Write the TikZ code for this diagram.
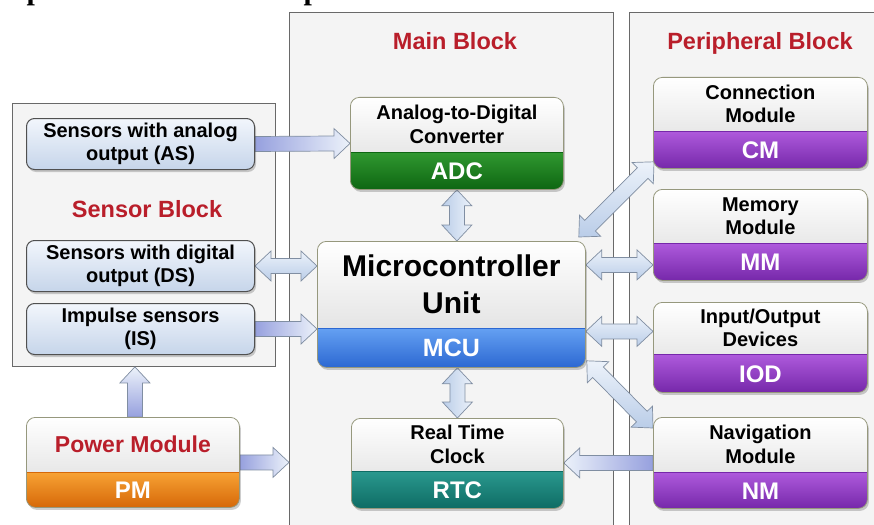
\documentclass[tikz,border=0pt]{standalone}
\usepackage{fontspec}
\setmainfont{Liberation Sans}
\newfontfamily\capserif{Liberation Serif}
\usetikzlibrary{calc,shadows}

\definecolor{panelfill}{RGB}{244,244,244}
\definecolor{panelline}{RGB}{105,105,105}
\definecolor{titlered}{RGB}{185,30,42}
\definecolor{modline}{RGB}{150,152,125}
\definecolor{sensline}{RGB}{80,80,80}
\definecolor{senstop}{RGB}{242,246,252}
\definecolor{sensbot}{RGB}{198,213,234}
\definecolor{adcA}{RGB}{48,152,48}
\definecolor{adcB}{RGB}{14,102,18}
\definecolor{mcuA}{RGB}{100,160,242}
\definecolor{mcuB}{RGB}{44,104,210}
\definecolor{rtcA}{RGB}{42,152,142}
\definecolor{rtcB}{RGB}{14,108,100}
\definecolor{pmA}{RGB}{247,162,52}
\definecolor{pmB}{RGB}{214,104,8}
\definecolor{purA}{RGB}{174,90,220}
\definecolor{purB}{RGB}{118,40,170}
\definecolor{arrline}{RGB}{128,142,162}
\definecolor{arrlight}{RGB}{236,242,250}
\definecolor{arrmid}{RGB}{186,205,232}
\definecolor{arrdeep}{RGB}{150,160,222}

\pgfdeclarelayer{back}
\pgfdeclarelayer{mid}
\pgfsetlayers{back,mid,main}

\tikzset{
  panel/.style={draw=panelline, line width=0.9pt, fill=panelfill,
    anchor=north west, inner sep=0},
  blocktitle/.style={text=titlered, anchor=base, inner sep=0,
    font=\fontsize{23.5}{26}\selectfont\bfseries},
  softshadow/.style={drop shadow={shadow xshift=1.5pt, shadow yshift=-2.5pt,
    opacity=0.28, fill=black!70}},
  sensorbox/.style={draw=sensline, line width=1pt, rounded corners=8pt,
    top color=senstop, bottom color=sensbot, anchor=north west,
    inner sep=0, minimum width=228pt, minimum height=51pt, align=center,
    font=\fontsize{20}{23.5}\selectfont\bfseries, softshadow},
  module/.style n args={5}{draw=modline, line width=0.8pt, rounded corners=9pt,
    anchor=north west, inner sep=0, minimum width=#1, minimum height=#2,
    fill=white, softshadow,
    path picture={
      \shade[sharp corners, top color=white, bottom color=black!15]
        (path picture bounding box.north west) rectangle
        ([yshift=#3]path picture bounding box.south east);
      \shade[sharp corners, top color=#4, bottom color=#5]
        ([yshift=#3]path picture bounding box.south west) rectangle
        (path picture bounding box.south east);
      \draw[sharp corners, #5, line width=0.6pt]
        ([yshift=#3]path picture bounding box.south west) --
        ([yshift=#3]path picture bounding box.south east);
    }},
  modtext/.style={align=center, inner sep=0,
    font=\fontsize{20}{23.5}\selectfont\bfseries},
  bandtext/.style={text=white, inner sep=0,
    font=\fontsize{24}{26}\selectfont\bfseries},
  arrowbody/.style={draw=arrline, line width=0.7pt, line join=miter},
}

% half widths of shaft and head, and head length, of the block arrows
\newcommand\shafthw{7.5pt}
\newcommand\headhw{15pt}
\newcommand\headlen{16pt}

% block arrow with one head: tail #2, tip #3
\newcommand\arrowone[3][]{%
  \coordinate (aneck) at ($(#3)!\headlen!(#2)$);
  \path[arrowbody,#1] ($(#2)!\shafthw!90:(#3)$) -- ($(aneck)!\shafthw!90:(#3)$)
    -- ($(aneck)!\headhw!90:(#3)$) -- (#3) -- ($(aneck)!\headhw!-90:(#3)$)
    -- ($(aneck)!\shafthw!-90:(#3)$) -- ($(#2)!\shafthw!-90:(#3)$) -- cycle;}

% block arrow with a head at both ends
\newcommand\arrowtwo[3][]{%
  \coordinate (aneckA) at ($(#2)!\headlen!(#3)$);
  \coordinate (aneckB) at ($(#3)!\headlen!(#2)$);
  \path[arrowbody,#1] (#2) -- ($(aneckA)!\headhw!90:(#3)$)
    -- ($(aneckA)!\shafthw!90:(#3)$) -- ($(aneckB)!\shafthw!90:(#3)$)
    -- ($(aneckB)!\headhw!90:(#3)$) -- (#3) -- ($(aneckB)!\headhw!-90:(#3)$)
    -- ($(aneckB)!\shafthw!-90:(#3)$) -- ($(aneckA)!\shafthw!-90:(#3)$)
    -- ($(aneckA)!\headhw!-90:(#3)$) -- cycle;}

\begin{document}
\begin{tikzpicture}[x=1pt,y=-1pt]
\useasboundingbox (0,0) rectangle (874,524);

\begin{pgfonlayer}{back}
  \fill[white] (0,0) rectangle (874,524);
  \node[panel, minimum width=263pt, minimum height=263pt] (sensorblk) at (12,103) {};
  \node[panel, minimum width=324pt, minimum height=530pt] (mainblk) at (289,12) {};
  \node[panel, minimum width=260pt, minimum height=530pt] (periblk) at (629,12) {};
\end{pgfonlayer}

% tails of the caption line above the figure
\node[anchor=base, inner sep=0, font=\capserif\bfseries\fontsize{30}{30}\selectfont] (capa) at (35,0) {p};
\node[anchor=base, inner sep=0, font=\capserif\bfseries\fontsize{30}{30}\selectfont] (capb) at (312,0) {p};

% block titles
\node[blocktitle] (maint) at (455,50) {Main Block};
\node[blocktitle] (perit) at (760,50) {Peripheral Block};
\node[blocktitle] (senst) at (147,217.5) {Sensor Block};

% sensor block
\node[sensorbox] (as) at (26,118) {Sensors with analog\\output (AS)};
\node[sensorbox] (ds) at (26,240) {Sensors with digital\\output (DS)};
\node[sensorbox] (is) at (26,303) {Impulse sensors\\(IS)};

% main block
\node[module={213pt}{92pt}{37pt}{adcA}{adcB}] (adc) at (350,97) {};
\node[modtext] (adc-t) at ([yshift=-27.5pt]adc.north) {Analog-to-Digital\\Converter};
\node[bandtext] (adc-b) at ([yshift=18.5pt]adc.south) {ADC};

\node[module={268pt}{126pt}{39pt}{mcuA}{mcuB}] (mcu) at (317,241) {};
\node[modtext, font=\fontsize{30}{37}\selectfont\bfseries] (mcu-t) at ([yshift=-43.5pt]mcu.north) {Microcontroller\\Unit};
\node[bandtext, font=\fontsize{25}{27}\selectfont\bfseries] (mcu-b) at ([yshift=19.5pt]mcu.south) {MCU};

\node[module={212pt}{90pt}{37pt}{rtcA}{rtcB}] (rtc) at (351,418) {};
\node[modtext] (rtc-t) at ([yshift=-26.5pt]rtc.north) {Real Time\\Clock};
\node[bandtext] (rtc-b) at ([yshift=18.5pt]rtc.south) {RTC};

% power module
\node[module={213pt}{90pt}{35pt}{pmA}{pmB}] (pm) at (26,417) {};
\node[modtext, text=titlered, font=\fontsize{23}{26}\selectfont\bfseries] (pm-t) at ([yshift=-27.5pt]pm.north) {Power Module};
\node[bandtext] (pm-b) at ([yshift=17.5pt]pm.south) {PM};

% peripheral block
\node[module={214pt}{91pt}{37pt}{purA}{purB}] (cm) at (653,77) {};
\node[modtext] (cm-t) at ([yshift=-27pt]cm.north) {Connection\\Module};
\node[bandtext] (cm-b) at ([yshift=18.5pt]cm.south) {CM};

\node[module={214pt}{91pt}{37pt}{purA}{purB}] (mm) at (653,189) {};
\node[modtext] (mm-t) at ([yshift=-27pt]mm.north) {Memory\\Module};
\node[bandtext] (mm-b) at ([yshift=18.5pt]mm.south) {MM};

\node[module={214pt}{90pt}{38pt}{purA}{purB}] (iod) at (653,302) {};
\node[modtext] (iod-t) at ([yshift=-26pt]iod.north) {Input/Output\\Devices};
\node[bandtext] (iod-b) at ([yshift=19pt]iod.south) {IOD};

\node[module={214pt}{91pt}{36pt}{purA}{purB}] (nm) at (653,417) {};
\node[modtext] (nm-t) at ([yshift=-27.5pt]nm.north) {Navigation\\Module};
\node[bandtext] (nm-b) at ([yshift=18pt]nm.south) {NM};

% arrow end points
\coordinate (p1s) at (as.east);
\coordinate (p1e) at (adc.west);
\coordinate (p2s) at (ds.east);
\coordinate (p2e) at (mcu.west |- ds.east);
\coordinate (p3s) at (is.east);
\coordinate (p3e) at (mcu.west |- is.east);
\coordinate (p4s) at ([xshift=2pt]pm.north);
\coordinate (p4e) at (p4s |- sensorblk.south);
\coordinate (p5s) at (pm.east);
\coordinate (p5e) at (pm.east -| mainblk.west);
\coordinate (p6s) at (adc.south);
\coordinate (p6e) at (adc.south |- mcu.north);
\coordinate (p7s) at (rtc.north);
\coordinate (p7e) at (rtc.north |- mcu.south);
\coordinate (p8s) at ([xshift=-7pt,yshift=4pt]mcu.north east);
\coordinate (p8e) at ([xshift=1pt,yshift=7pt]cm.south west);
\coordinate (p9e) at ([yshift=-30pt]mm.west);
\coordinate (p9s) at (mcu.east |- p9e);
\coordinate (p10e) at ([yshift=16pt]iod.west);
\coordinate (p10s) at (mcu.east |- p10e);
\coordinate (p11s) at ([xshift=1pt,yshift=7pt]mcu.south east);
\coordinate (p11e) at ([yshift=-11pt]nm.north west);
\coordinate (p12s) at (nm.west);
\coordinate (p12e) at (rtc.east |- nm.west);

\begin{pgfonlayer}{mid}
  \arrowone[left color=arrdeep, right color=arrlight]{p1s}{p1e}
  \arrowtwo[top color=arrlight, bottom color=arrmid]{p2s}{p2e}
  \arrowone[left color=arrdeep, right color=arrlight]{p3s}{p3e}
  \arrowone[bottom color=arrdeep, top color=arrlight]{p4s}{p4e}
  \arrowone[left color=arrdeep, right color=arrlight]{p5s}{p5e}
  \arrowtwo[left color=arrmid, right color=arrlight]{p6s}{p6e}
  \arrowtwo[left color=arrmid, right color=arrlight]{p7s}{p7e}
  \arrowtwo[top color=arrlight, bottom color=arrmid]{p8s}{p8e}
  \arrowtwo[top color=arrlight, bottom color=arrmid]{p9s}{p9e}
  \arrowtwo[top color=arrlight, bottom color=arrmid]{p10s}{p10e}
  \arrowtwo[top color=arrlight, bottom color=arrmid]{p11s}{p11e}
  \arrowone[right color=arrdeep, left color=arrlight]{p12s}{p12e}
\end{pgfonlayer}
\end{tikzpicture}
\end{document}
